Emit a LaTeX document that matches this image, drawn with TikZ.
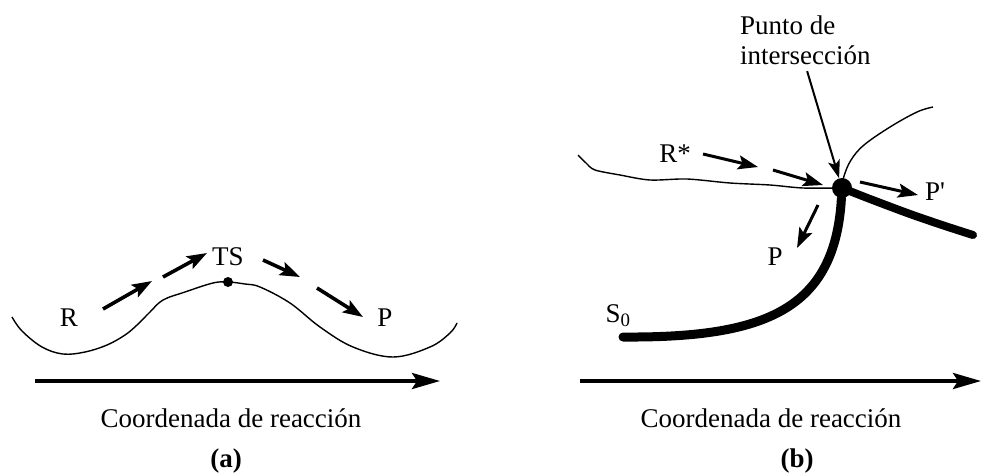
\documentclass[tikz,border=0pt]{standalone}
\usepackage{fontspec}
\setmainfont{Liberation Serif}
\usetikzlibrary{arrows.meta, positioning}

\begin{document}
\begin{tikzpicture}[x=1pt, y=-1pt, >=Stealth,
    lbl/.style={font=\fontsize{27}{30}\selectfont, inner sep=0pt},
    flow/.style={-{Stealth[length=20pt, width=14pt, inset=4pt]}, line width=3.6pt},
    axis/.style={-{Stealth[length=28pt, width=16pt, inset=5pt]}, line width=3.8pt},
    pes/.style={line width=1.4pt, line join=round},
    seam/.style={line width=9pt, line cap=round, line join=round}]

    \useasboundingbox (0,0) rectangle (981,472);

    % (a)
    \draw[pes] plot[smooth, tension=0.6] coordinates {(12,317) (22,331) (42,347) (63,354) (85,352) (107,345) (125,335) (137,325) (150,312) (163,300) (185,292) (213,283) (228,282) (245,284) (260,287) (290,303) (320,327) (353,347) (393,357) (430,347) (450,333) (457,323)};
    \node[circle, fill, inner sep=0pt, minimum size=10pt] (ts) at (228,282) {};

    \node[lbl] (r)    at (69,318)  {R};
    \node[lbl] (tsl)  at (228,257) {TS};
    \node[lbl] (pa)   at (385,318) {P};

    \coordinate (a1) at (103,309);  \coordinate (a2) at (152,281);
    \coordinate (a3) at (163,277);  \coordinate (a4) at (207,253);
    \coordinate (a5) at (263,260);  \coordinate (a6) at (300,277);
    \coordinate (a7) at (317,288);  \coordinate (a8) at (363,317);
    \draw[flow] (a1) -- (a2);
    \draw[flow] (a3) -- (a4);
    \draw[flow] (a5) -- (a6);
    \draw[flow] (a7) -- (a8);

    \coordinate (axa0) at (35,381);  \coordinate (axa1) at (440,381);
    \draw[axis] (axa0) -- (axa1);
    \node[lbl, anchor=base] (cra)  at (231,427) {Coordenada de reacción};
    \node[lbl, anchor=base] (capa) at (226,467) {\bfseries (a)};

    % (b)
    \node[circle, fill, inner sep=0pt, minimum size=20pt] (ip) at (842,188) {};
    \draw[pes] plot[smooth, tension=0.5] coordinates {(578,155) (586,163) (595,170) (620,175) (650,180) (687,179) (730,183) (770,185) (803,188) (ip)};
    \draw[pes] plot[smooth, tension=0.6] coordinates {(ip) (844,176) (851,160) (864,145) (890,127) (917,112) (933,107)};
    \coordinate (s0e) at (623,337);
    \draw[seam] (ip) .. controls (835,310) and (765,338) .. (s0e);
    \draw[seam, line width=8pt] plot[smooth, tension=0.5] coordinates {(ip) (870,199) (910,214) (945,226) (973,235)};

    \node[lbl, anchor=north west, align=left] (ipl) at (740,16) {Punto de\\intersección};
    \draw[-{Stealth[length=18pt, width=12pt, inset=4pt]}, line width=2pt, shorten <=6pt] (ipl.south) -- (ip);

    \node[lbl] (rs)  at (675,154) {R*};
    \node[lbl] (pb)  at (775,257) {P};
    \node[lbl] (s0)  at (618,316) {S\textsubscript{0}};
    \node[lbl] (pp)  at (935,192) {P\textquotesingle};

    \coordinate (b1) at (703,154);  \coordinate (b2) at (758,167);
    \coordinate (b3) at (773,170);  \coordinate (b4) at (823,185);
    \coordinate (b5) at (860,182);  \coordinate (b6) at (918,195);
    \coordinate (b7) at (818,205);  \coordinate (b8) at (797,248);
    \draw[flow, line width=3pt] (b1) -- (b2);
    \draw[flow, line width=3pt] (b3) -- (b4);
    \draw[flow, line width=3pt] (b5) -- (b6);
    \draw[flow, line width=3pt] (b7) -- (b8);

    \coordinate (axb0) at (580,381);  \coordinate (axb1) at (981,381);
    \draw[axis] (axb0) -- (axb1);
    \node[lbl, anchor=base] (crb)  at (771,427) {Coordenada de reacción};
    \node[lbl, anchor=base] (capb) at (797,467) {\bfseries (b)};
\end{tikzpicture}
\end{document}
